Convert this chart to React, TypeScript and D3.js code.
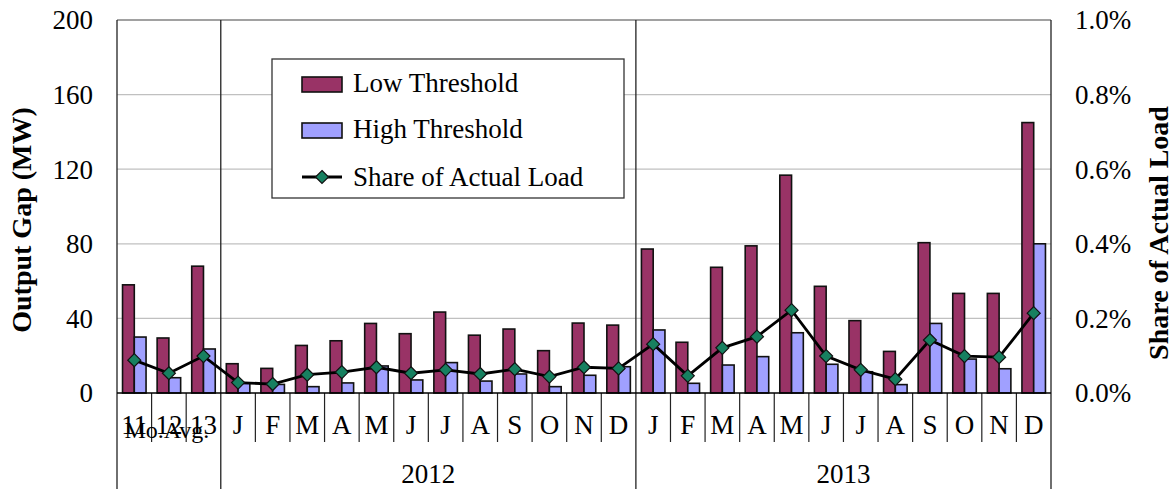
import React from "react";
import * as d3 from "d3";

const categories = ["11","12","13","J","F","M","A","M","J","J","A","S","O","N","D","J","F","M","A","M","J","J","A","S","O","N","D"];
const lowThreshold = [58,29.5,68,15.7,13.2,25.5,28,37.3,31.8,43.4,31,34.3,22.7,37.5,36.4,77.2,27.2,67.4,78.9,116.8,57.2,38.8,22.3,80.6,53.4,53.4,145];
const highThreshold = [30,8.2,23.6,5.2,4.6,3.4,5.4,14.5,7,16.3,6.4,10.2,3.4,9.5,14.1,33.8,5.2,15,19.5,32.3,15.4,11.4,4.5,37.3,18.2,13,80];
const shareOfLoad = [0.088,0.053,0.099,0.028,0.024,0.049,0.056,0.069,0.053,0.062,0.051,0.064,0.044,0.069,0.066,0.131,0.046,0.121,0.151,0.222,0.099,0.062,0.037,0.142,0.099,0.096,0.214];
const groupLabels = ["Mo.Avg.","2012","2013"];
const groupStarts = [0,3,15];
const groupEnds = [3,15,27];
const leftTicks = [0,40,80,120,160,200];
const rightTicks = [0,0.2,0.4,0.6,0.8,1.0];

const W = 1172, H = 489;
const L = 117, R = 1051, T = 20, B = 393;
const FONT = "'Liberation Serif', 'Times New Roman', serif";
const MAROON = "#993366";
const BLUE = "#A0A0FF";
const GREEN = "#178060";

export default function App() {
  const x = d3.scaleBand<number>().domain(d3.range(categories.length)).range([L, R]).padding(0);
  const bw = x.bandwidth();
  const y = d3.scaleLinear().domain([0, 200]).range([B, T]);
  const y2 = d3.scaleLinear().domain([0, 1.0]).range([B, T]);
  const barW = bw * 0.34;
  const cx = (i: number) => (x(i) as number) + bw / 2;
  const line = d3.line<number>().x((_, i) => cx(i)).y((d) => y2(d));
  const diamond = (px: number, py: number, r = 6.5) =>
    `M${px},${py - r}L${px + r},${py}L${px},${py + r}L${px - r},${py}Z`;
  const boundary = (i: number) => (i < categories.length ? (x(i) as number) : R);

  return (
    <svg width={W} height={H} style={{ position: "absolute", left: 0, top: 0, fontFamily: FONT }}>
      <rect x={0} y={0} width={W} height={H} fill="#fff" />
      {leftTicks.filter((t) => t > 0 && t < 200).map((t) => (
        <line key={"g" + t} x1={L} x2={R} y1={y(t)} y2={y(t)} stroke="#c0c0c0" strokeWidth={1.3} />
      ))}
      {/* plot border */}
      <line x1={L} x2={R} y1={T} y2={T} stroke="#444" strokeWidth={1.2} />
      <line x1={L} x2={L} y1={T} y2={H} stroke="#222" strokeWidth={1.3} />
      <line x1={R} x2={R} y1={T} y2={H} stroke="#222" strokeWidth={1.3} />
      {groupStarts.slice(1).map((s) => (
        <line key={"sep" + s} x1={boundary(s)} x2={boundary(s)} y1={T} y2={H} stroke="#222" strokeWidth={1.3} />
      ))}
      {/* category ticks */}
      {d3.range(1, categories.length).filter((i) => !groupStarts.includes(i)).map((i) => (
        <line key={"t" + i} x1={boundary(i)} x2={boundary(i)} y1={B} y2={442} stroke="#222" strokeWidth={1.2} />
      ))}
      {/* bars */}
      {lowThreshold.map((v, i) => (
        <rect key={"l" + i} x={cx(i) - barW} y={y(v)} width={barW} height={B - y(v)} fill={MAROON} stroke="#111" strokeWidth={1.6} />
      ))}
      {highThreshold.map((v, i) => (
        <rect key={"h" + i} x={cx(i)} y={y(v)} width={barW} height={B - y(v)} fill={BLUE} stroke="#111" strokeWidth={1.6} />
      ))}
      <line x1={L} x2={R} y1={B} y2={B} stroke="#000" strokeWidth={1.5} />
      {/* share line */}
      <path d={line(shareOfLoad) || ""} fill="none" stroke="#000" strokeWidth={2.8} />
      {shareOfLoad.map((v, i) => (
        <path key={"m" + i} d={diamond(cx(i), y2(v))} fill={GREEN} stroke="#111" strokeWidth={1.2} />
      ))}
      {/* left ticks */}
      {leftTicks.map((t) => (
        <text key={"lt" + t} x={93} y={y(t)} dy="0.35em" textAnchor="end" fontSize={27}>{t}</text>
      ))}
      {rightTicks.map((t) => (
        <text key={"rt" + t} x={1075} y={y2(t)} dy="0.35em" textAnchor="start" fontSize={27}>{t.toFixed(1) + "%"}</text>
      ))}
      {/* category labels */}
      {categories.map((c, i) => (
        <text key={"c" + i} x={cx(i)} y={434} textAnchor="middle" fontSize={27}>{c}</text>
      ))}
      {groupLabels.map((g, k) => {
        const gx = (boundary(groupStarts[k]) + boundary(groupEnds[k])) / 2;
        return k === 0 ? (
          <text key={"gl" + k} x={gx - 2} y={438} textAnchor="middle" fontSize={24}>{g}</text>
        ) : (
          <text key={"gl" + k} x={gx} y={483} textAnchor="middle" fontSize={27}>{g}</text>
        );
      })}
      {/* axis titles */}
      <text transform="translate(31,220) rotate(-90)" textAnchor="middle" fontSize={28} fontWeight="bold">Output Gap (MW)</text>
      <text transform="translate(1168,233) rotate(-90)" textAnchor="middle" fontSize={28} fontWeight="bold">Share of Actual Load</text>
      {/* legend */}
      <rect x={272} y={59} width={352} height={139} fill="#fff" stroke="#333" strokeWidth={1.3} />
      <rect x={302} y={77} width={40} height={15} fill={MAROON} stroke="#111" strokeWidth={1.6} />
      <text x={353} y={92} fontSize={27}>Low Threshold</text>
      <rect x={302} y={123} width={40} height={15} fill={BLUE} stroke="#111" strokeWidth={1.6} />
      <text x={353} y={138} fontSize={27}>High Threshold</text>
      <line x1={302} x2={342} y1={177} y2={177} stroke="#000" strokeWidth={2.8} />
      <path d={diamond(322, 177)} fill={GREEN} stroke="#111" strokeWidth={1.2} />
      <text x={353} y={186} fontSize={27}>Share of Actual Load</text>
    </svg>
  );
}
